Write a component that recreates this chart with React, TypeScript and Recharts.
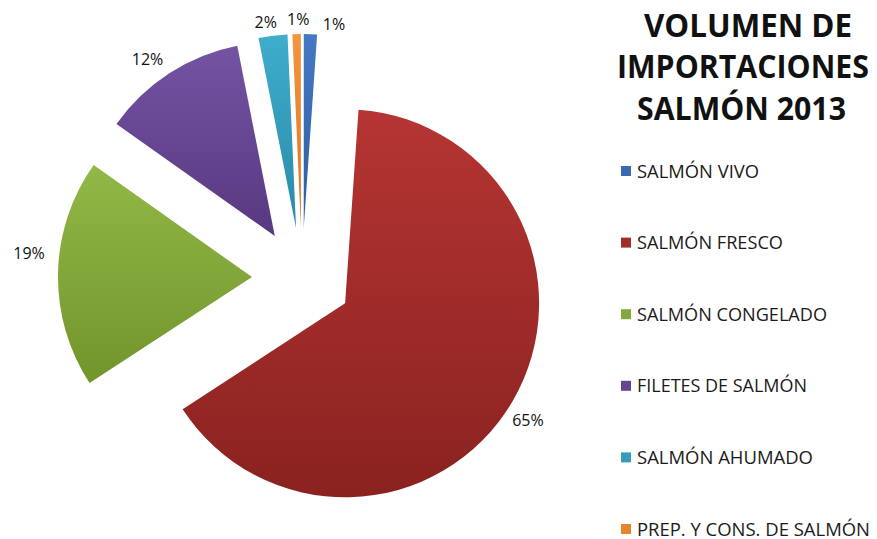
import React from 'react';
import { PieChart, Pie, Cell } from 'recharts';

// ---- data ----
const categories = [
  'SALMÓN VIVO',
  'SALMÓN FRESCO',
  'SALMÓN CONGELADO',
  'FILETES DE SALMÓN',
  'SALMÓN AHUMADO',
  'PREP. Y CONS. DE SALMÓN',
];
const shares = [1.1, 64.7, 19.0, 12.1, 2.4, 0.7];
const percentLabels = ['1%', '65%', '19%', '12%', '2%', '1%'];
const titleLines = ['VOLUMEN DE', 'IMPORTACIONES', 'SALMÓN 2013'];

// ---- styles ----
const colorTop = ['#4479c4', '#b53533', '#92b847', '#7454a3', '#3fadcc', '#f3963f'];
const colorBottom = ['#2f5d9f', '#8a2220', '#72952c', '#583880', '#2a8aa9', '#da7420'];
const legendColor = ['#3a6ab0', '#a22c2a', '#84a83c', '#654592', '#369bbb', '#e6852e'];

const W = 877;
const H = 539;
const CX = 302;
const CY = 278;
const R = 194;
const EXPLODE = 50;
const labelGap = 18;
const labelNudge: [number, number][] = [
  [23, 8],
  [0, 9],
  [-11, -20],
  [-12, 1],
  [-5, 4],
  [2, 3],
];
const titleScale = 0.86;
const titleLayout = [
  { x: 644, y: 37, len: 208 },
  { x: 617, y: 78, len: 252 },
  { x: 637, y: 120, len: 209 },
];
const legendTextLen = [122, 146, 190, 170, 176, 233];

const rows = categories.map((name, i) => ({ name, value: shares[i], label: percentLabels[i] }));
const total = shares.reduce((a, b) => a + b, 0);
const midDeg = shares.map((v, i) => {
  const before = shares.slice(0, i).reduce((a, b) => a + b, 0);
  return (360 * (before + v / 2)) / total;
});

const makeLabel = (k: number) => (props: any) => {
  if (props.index !== k) return <g />;
  const { cx, cy, midAngle, outerRadius } = props;
  const rad = (-midAngle * Math.PI) / 180;
  const x = cx + (outerRadius + labelGap) * Math.cos(rad) + labelNudge[k][0];
  const y = cy + (outerRadius + labelGap) * Math.sin(rad) + labelNudge[k][1];
  return (
    <text
      x={x}
      y={y}
      textAnchor="middle"
      dominantBaseline="central"
      fontFamily="'Open Sans', sans-serif"
      fontSize={16}
      fill="#111"
    >
      {rows[k].label}
    </text>
  );
};

export default function App() {
  return (
    <div style={{ position: 'absolute', left: 0, top: 0, width: W, height: H, background: '#fff' }}>
      <PieChart width={W} height={H} margin={{ top: 0, right: 0, bottom: 0, left: 0 }}>
        <defs>
          {colorTop.map((c, i) => (
            <linearGradient key={i} id={`grad${i}`} x1="0" y1="0" x2="0" y2="1">
              <stop offset="0%" stopColor={c} />
              <stop offset="100%" stopColor={colorBottom[i]} />
            </linearGradient>
          ))}
        </defs>
        {rows.map((_, k) => {
          const rad = (midDeg[k] * Math.PI) / 180;
          const cx = CX + EXPLODE * Math.sin(rad);
          const cy = CY - EXPLODE * Math.cos(rad);
          return (
            <Pie
              key={`pie${k}`}
              data={rows}
              dataKey="value"
              nameKey="name"
              cx={cx}
              cy={cy}
              outerRadius={R}
              innerRadius={0}
              startAngle={90}
              endAngle={-270}
              stroke="none"
              isAnimationActive={false}
              labelLine={false}
              label={makeLabel(k)}
            >
              {rows.map((__, i) => (
                <Cell key={i} fill={i === k ? `url(#grad${k})` : 'none'} stroke="none" />
              ))}
            </Pie>
          );
        })}
      </PieChart>
      <svg
        width={W}
        height={H}
        style={{ position: 'absolute', left: 0, top: 0, pointerEvents: 'none' }}
      >
        {titleLines.map((t, i) => (
          <g key={t} transform={`translate(${titleLayout[i].x},${titleLayout[i].y}) scale(${titleScale},1)`}>
            <text
              x={0}
              y={0}
              textLength={titleLayout[i].len / titleScale}
              lengthAdjust="spacingAndGlyphs"
              fontFamily="'Open Sans', sans-serif"
              fontWeight={700}
              fontSize={32}
              fill="#111"
            >
              {t}
            </text>
          </g>
        ))}
        {categories.map((c, i) => {
          const yc = 171 + i * 71.6;
          return (
            <g key={c}>
              <rect x={621} y={yc - 5} width={10} height={10} fill={legendColor[i]} />
              <text
                x={637}
                y={yc + 6.5}
                textLength={legendTextLen[i]}
                lengthAdjust="spacingAndGlyphs"
                fontFamily="'Open Sans', sans-serif"
                fontSize={18}
                fill="#1a1a1a"
              >
                {c}
              </text>
            </g>
          );
        })}
      </svg>
    </div>
  );
}
